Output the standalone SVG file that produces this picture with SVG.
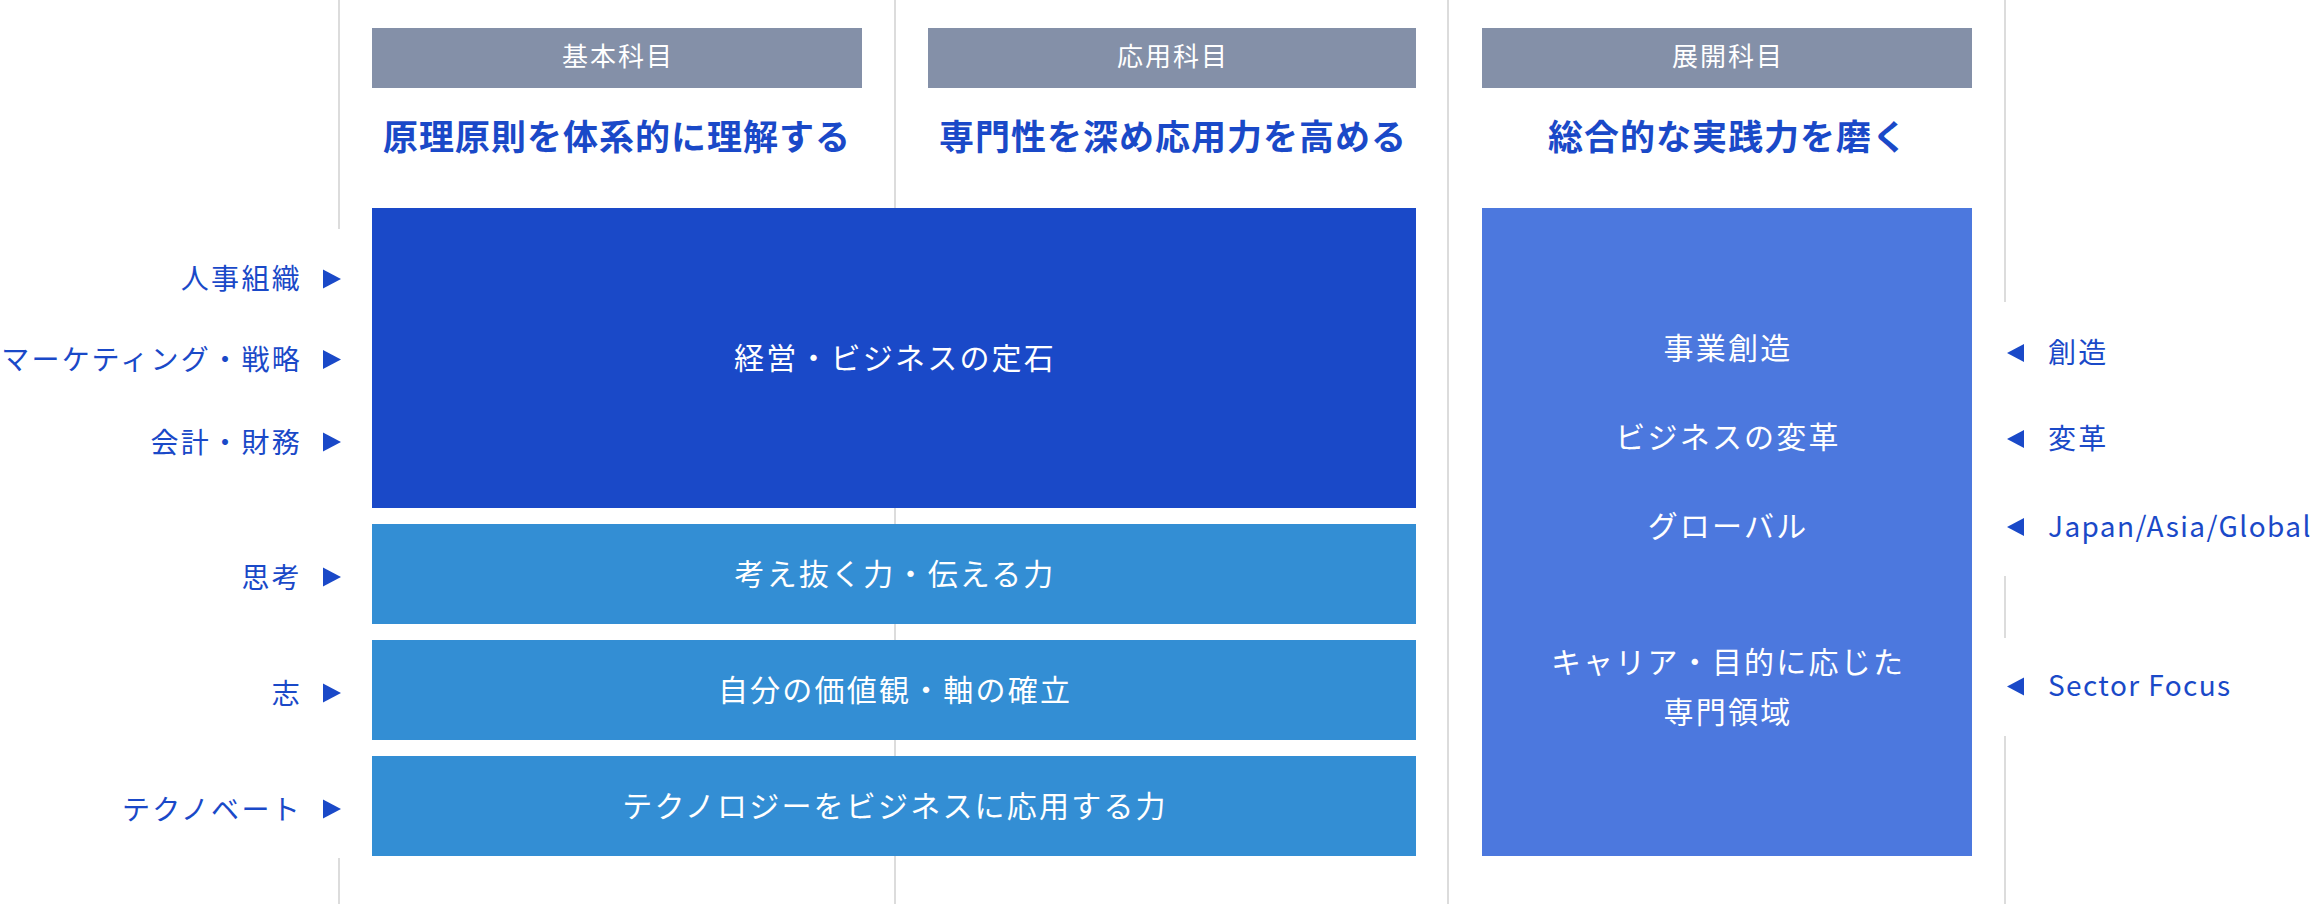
<svg xmlns="http://www.w3.org/2000/svg" width="2320" height="904" viewBox="0 0 2320 904">
<style>
text{font-family:"Noto Sans CJK JP","Noto Sans",sans-serif;}
.hd{fill:#8490A8;}
.hdt{fill:#ffffff;font-size:26px;letter-spacing:2px;text-anchor:middle;}
.sub{fill:#1A49C8;font-size:35px;font-weight:bold;letter-spacing:1px;text-anchor:middle;}
.bt{fill:#ffffff;font-size:30px;letter-spacing:2.2px;text-anchor:middle;}
.lbl{fill:#1A49C8;font-size:28px;letter-spacing:2.3px;}
.lat{letter-spacing:1.4px;}
.l{text-anchor:end;}
.tri{fill:#1A49C8;}
.vl{stroke:#DCDCDC;stroke-width:2;fill:none;}
</style>
<rect width="2320" height="904" fill="#ffffff"/>
<g id="connectors">
<line class="vl" x1="339" y1="0" x2="339" y2="229"/>
<line class="vl" x1="339" y1="858" x2="339" y2="904"/>
<line class="vl" x1="895" y1="0" x2="895" y2="904"/>
<line class="vl" x1="1448" y1="0" x2="1448" y2="904"/>
<line class="vl" x1="2005" y1="0" x2="2005" y2="302"/>
<line class="vl" x1="2005" y1="576" x2="2005" y2="638"/>
<line class="vl" x1="2005" y1="736" x2="2005" y2="904"/>
</g>
<g id="header-basic">
<rect class="hd" x="372" y="28" width="490" height="60"/>
<text class="hdt" x="618" y="66">基本科目</text>
<text class="sub" x="617" y="150">原理原則を体系的に理解する</text>
</g>
<g id="header-applied">
<rect class="hd" x="928" y="28" width="488" height="60"/>
<text class="hdt" x="1173" y="66">応用科目</text>
<text class="sub" x="1173" y="150">専門性を深め応用力を高める</text>
</g>
<g id="header-advanced">
<rect class="hd" x="1482" y="28" width="490" height="60"/>
<text class="hdt" x="1728" y="66">展開科目</text>
<text class="sub" x="1728" y="150">総合的な実践力を磨く</text>
</g>
<g id="box-fundamentals">
<rect x="372" y="208" width="1044" height="300" fill="#1A49C8"/>
<text class="bt" x="895" y="369">経営・ビジネスの定石</text>
</g>
<g id="box-thinking">
<rect x="372" y="524" width="1044" height="100" fill="#338ED4"/>
<text class="bt" x="895" y="585">考え抜く力・伝える力</text>
</g>
<g id="box-values">
<rect x="372" y="640" width="1044" height="100" fill="#338ED4"/>
<text class="bt" x="895" y="701">自分の価値観・軸の確立</text>
</g>
<g id="box-technovate">
<rect x="372" y="756" width="1044" height="100" fill="#338ED4"/>
<text class="bt" x="895" y="817">テクノロジーをビジネスに応用する力</text>
</g>
<g id="box-advanced">
<rect x="1482" y="208" width="490" height="648" fill="#4C78DE"/>
<text class="bt" x="1728" y="359">事業創造</text>
<text class="bt" x="1728" y="448">ビジネスの変革</text>
<text class="bt" x="1728" y="537">グローバル</text>
<text class="bt" x="1728" y="673">キャリア・目的に応じた</text>
<text class="bt" x="1728" y="723">専門領域</text>
</g>
<g id="label-hr">
<text class="lbl l" x="302" y="289">人事組織</text>
<polygon class="tri" points="323,269.5 341,279 323,288.5"/>
</g>
<g id="label-marketing">
<text class="lbl l" x="302" y="370">マーケティング・戦略</text>
<polygon class="tri" points="323,350 341,359.5 323,369"/>
</g>
<g id="label-accounting">
<text class="lbl l" x="302" y="453">会計・財務</text>
<polygon class="tri" points="323,432.5 341,442 323,451.5"/>
</g>
<g id="label-thinking">
<text class="lbl l" x="302" y="588">思考</text>
<polygon class="tri" points="323,567.5 341,577 323,586.5"/>
</g>
<g id="label-aspiration">
<text class="lbl l" x="302" y="704">志</text>
<polygon class="tri" points="323,683.5 341,693 323,702.5"/>
</g>
<g id="label-technovate">
<text class="lbl l" x="302" y="820">テクノベート</text>
<polygon class="tri" points="323,799.5 341,809 323,818.5"/>
</g>
<g id="label-creation">
<polygon class="tri" points="2024,344 2007,353 2024,362"/>
<text class="lbl" x="2048" y="363">創造</text>
</g>
<g id="label-transformation">
<polygon class="tri" points="2024,430 2007,439 2024,448"/>
<text class="lbl" x="2048" y="449">変革</text>
</g>
<g id="label-global">
<polygon class="tri" points="2024,518 2007,527 2024,536"/>
<text class="lbl lat" x="2048" y="537">Japan/Asia/Global</text>
</g>
<g id="label-sector">
<polygon class="tri" points="2024,677.5 2007,686.5 2024,695.5"/>
<text class="lbl lat" x="2048" y="696">Sector Focus</text>
</g>
</svg>
